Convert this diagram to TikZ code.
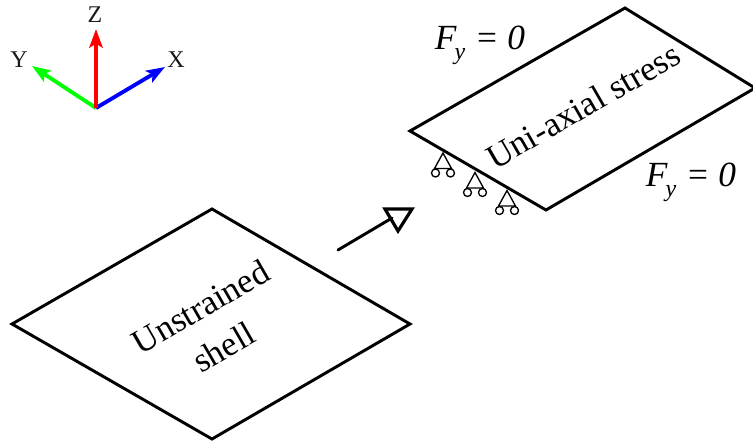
\documentclass[tikz,border=0pt]{standalone}
\usepackage{fontspec}
\setmainfont{Liberation Serif}
\usetikzlibrary{arrows.meta}
\newcommand{\fsz}[1]{\fontsize{#1}{#1}\selectfont}
\newcommand{\Fy}{\textit{F}\kern-0.06em\raisebox{-0.28em}{\fsz{18}\textit{y}}\kern0.1em\,\textit{= 0}}
\tikzset{
  x=0.75pt,y=-0.75pt,
  plate/.style={draw=black,line width=2.2pt,line join=miter},
  axis/.style={line width=2.9pt,-{Stealth[length=14pt,width=10pt,inset=3pt]}},
  axlabel/.style={font=\fsz{18},inner sep=0pt,text=black!90},
  big/.style={font=\fsz{26},inner sep=0pt,align=center},
  force/.style={font=\fsz{26.5},inner sep=0pt},
  prop/.style={line width=1pt,draw=black},
  flow/.style={line width=2.2pt,line cap=round},
  flowhead/.style={line width=2.4pt,draw=black,line join=miter}
}
\newcommand{\support}[2]{%
  \begin{scope}[shift={(#1,#2)}]
    \draw[prop] (0,0) -- (-8.5,15.5) -- (8.5,15.5) -- cycle;
    \draw[prop] (-7.5,20) circle[radius=3pt];
    \draw[prop] (7.5,20) circle[radius=3pt];
  \end{scope}}
\begin{document}
\begin{tikzpicture}
\useasboundingbox (0,0) rectangle (753,444);
\clip (0,0) rectangle (753,444);
% axes
\coordinate (o) at (96,108);
\coordinate (xt) at (165,67);
\coordinate (yt) at (32,66);
\coordinate (zt) at (96,29);
\draw[axis,green] (o) -- (yt);
\draw[axis,blue] (o) -- (xt);
\draw[axis,red] (o) -- (zt);
\node[axlabel] (zl) at (95,15) {Z};
\node[axlabel] (yl) at (19,60) {Y};
\node[axlabel] (xl) at (176,60) {X};
% lower plate
\draw[plate] (12,324) -- (212,209) -- (410,324) -- (212,439) -- cycle;
\node[big,rotate=30] (un) at (212,327) {Unstrained\\[9pt]shell};
% upper plate
\draw[plate] (410,131) -- (625,8) -- (755,88) -- (546,210) -- cycle;
\node[big,rotate=30] (ua) at (583,106) {Uni-axial stress};
\node[force] (f1) at (480,45) {\Fy};
\node[force] (f2) at (691,182) {\Fy};
% supports
\support{443}{153}
\support{475}{172.5}
\support{507}{190.5}
% process arrow
\coordinate (a1) at (338,250);
\coordinate (a2) at (392,218);
\draw[flow] (a1) -- (a2);
\draw[flowhead] (385,209) -- (412,209) -- (398,231) -- cycle;
\end{tikzpicture}
\end{document}
